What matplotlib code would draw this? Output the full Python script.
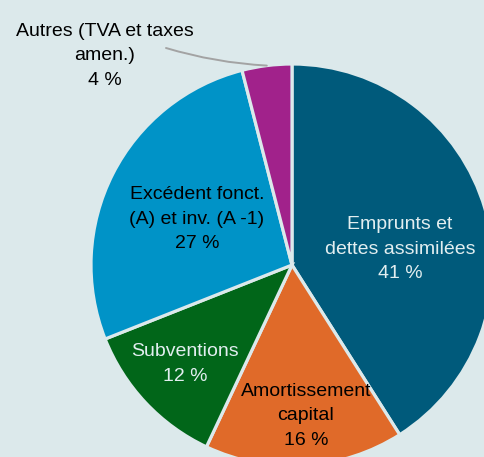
import numpy as np
import matplotlib.pyplot as plt

labels = ['Emprunts et\ndettes assimilées', 'Amortissement\ncapital',
          'Subventions', 'Excédent fonct.\n(A) et inv. (A -1)',
          'Autres (TVA et taxes\namen.)']
shares = [41, 16, 12, 27, 4]
colors = ['#005a7b', '#e06a29', '#016619', '#0093c7', '#a1228b']
text_colors = ['#e2eef0', 'black', '#e2eef0', 'black', 'black']
bg = '#dce9eb'

# label centres in pixels, measured from the top-left corner
label_xy = [(400, 249), (306, 416), (185, 364), (197, 219), (105, 56)]

plt.rcParams['font.family'] = ['Liberation Sans Narrow', 'Liberation Sans',
                               'DejaVu Sans']

W, H = 484, 457
fig = plt.figure(figsize=(W / 100, H / 100), dpi=100, facecolor=bg)
ax = fig.add_axes([0, 0, 1, 1])
ax.set_facecolor(bg)

cx, cy, r = 292, H - 265, 201
wedges, _ = ax.pie(shares, colors=colors, startangle=90, counterclock=False,
                   center=(cx, cy), radius=r,
                   wedgeprops=dict(edgecolor=bg, linewidth=2.3))

ax.set_xlim(0, W)
ax.set_ylim(0, H)
ax.set_aspect('auto')
ax.axis('off')

for lab, val, tc, (x, y) in zip(labels[:4], shares[:4], text_colors[:4],
                                label_xy[:4]):
    ax.text(x, H - y, f'{lab}\n{val} %', ha='center', va='center', color=tc,
            fontsize=14, linespacing=1.55)

# Autres label outside the pie with a leader line
w = wedges[4]
ang = np.deg2rad((w.theta1 + w.theta2) / 2)
x, y = label_xy[4]
ax.text(x, H - y, f'{labels[4]}\n{shares[4]} %', ha='center', va='center',
        fontsize=14, linespacing=1.55, color=text_colors[4])
ax.annotate('', xy=(cx + 1.0 * r * np.cos(ang), cy + 1.0 * r * np.sin(ang)),
            xytext=(166, H - 48),
            arrowprops=dict(arrowstyle='-', color='#a3a3a3', lw=1.4,
                            shrinkA=0, shrinkB=0,
                            connectionstyle='arc3,rad=0.06'))

fig.savefig('out.png', dpi=100, facecolor=bg)
